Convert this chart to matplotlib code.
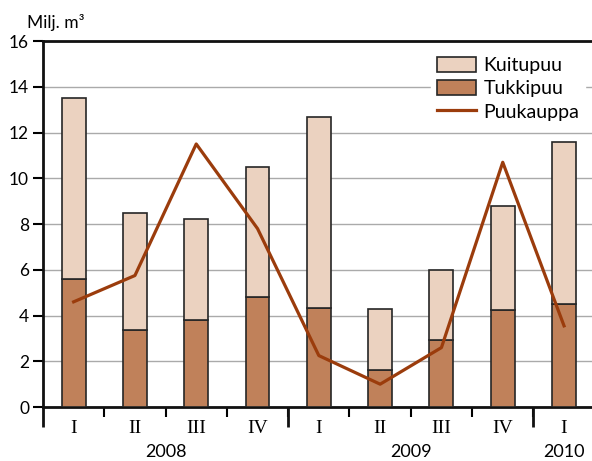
import numpy as np
import matplotlib.pyplot as plt
import matplotlib.transforms as mtransforms

# Quarterly data, million m3
quarters = ['I', 'II', 'III', 'IV', 'I', 'II', 'III', 'IV', 'I']
years = ['2008', '2008', '2008', '2008', '2009', '2009', '2009', '2009', '2010']
tukkipuu = [5.6, 3.35, 3.8, 4.8, 4.35, 1.6, 2.95, 4.25, 4.5]
kuitupuu_total = [13.5, 8.5, 8.2, 10.5, 12.7, 4.3, 6.0, 8.8, 11.6]
puukauppa = [4.6, 5.75, 11.5, 7.8, 2.25, 1.0, 2.6, 10.7, 3.55]

kuitupuu = np.array(kuitupuu_total) - np.array(tukkipuu)

c_kuitu = '#ebd2c0'
c_tukki = '#c0815a'
c_line = '#9b3c0c'
edge = '#262626'
sans = 'Lato'
serif = 'Liberation Serif'

fig = plt.figure(figsize=(5.92, 4.61), dpi=100)
ax = fig.add_axes([0.0726, 0.117, 0.9274, 0.794])

x = np.arange(len(quarters))
w = 0.39
ax.bar(x, tukkipuu, w, color=c_tukki, edgecolor=edge, linewidth=1.2,
       label='Tukkipuu', zorder=3)
ax.bar(x, kuitupuu, w, bottom=tukkipuu, color=c_kuitu, edgecolor=edge,
       linewidth=1.2, label='Kuitupuu', zorder=3)
ax.plot(x, puukauppa, color=c_line, lw=2.3, label='Puukauppa', zorder=4)

ax.set_xlim(-0.5, 8.456)
ax.set_ylim(0, 16)
ax.set_yticks(range(0, 17, 2))
ax.yaxis.grid(True, color='#aaaaaa', lw=1.0, zorder=0)
ax.set_axisbelow(True)

for s in ['left', 'top', 'bottom']:
    ax.spines[s].set_linewidth(2.0)
    ax.spines[s].set_color('#111111')
ax.spines['right'].set_visible(False)

ax.tick_params(axis='y', length=7, width=1.5, labelsize=12.5, pad=3)
for lab in ax.get_yticklabels():
    lab.set_fontfamily(sans)

# Quarter labels
ax.set_xticks(x)
ax.set_xticklabels(quarters, fontfamily=serif, fontsize=14)
ax.tick_params(axis='x', length=0, pad=9)

# Short ticks between quarters, long ticks at year boundaries
bounds = np.arange(len(quarters) + 1) - 0.5
ax.set_xticks(bounds[1:-1], minor=True)
ax.tick_params(axis='x', which='minor', length=7, width=1.5)
trans = mtransforms.blended_transform_factory(ax.transData, ax.transAxes)
year_starts = [i for i in range(len(years)) if i == 0 or years[i] != years[i - 1]]
for i in year_starts:
    ax.plot([i - 0.5, i - 0.5], [0, -0.055], transform=trans, color='#111111',
            lw=2.0, clip_on=False, solid_capstyle='butt')

# Year labels
for yr in dict.fromkeys(years):
    idx = [i for i, y in enumerate(years) if y == yr]
    ax.text(np.mean(idx), -0.122, yr, transform=trans, ha='center', va='center',
            fontsize=13, fontfamily=sans)

fig.text(0.045, 0.952, 'Milj. m³', fontsize=12.5, fontfamily=sans, va='center')

h, l = ax.get_legend_handles_labels()
lookup = dict(zip(l, h))
names = ['Kuitupuu', 'Tukkipuu', 'Puukauppa']
leg = ax.legend([lookup[n] for n in names], names, loc='upper right',
                bbox_to_anchor=(1.005, 1.0), frameon=True, fancybox=False,
                framealpha=1, edgecolor='white', prop={'family': sans, 'size': 14},
                handlelength=2.0, handleheight=0.85, labelspacing=0.3,
                handletextpad=0.4, borderpad=0.3)
leg.set_zorder(5)

plt.savefig('out.png', dpi=100)
